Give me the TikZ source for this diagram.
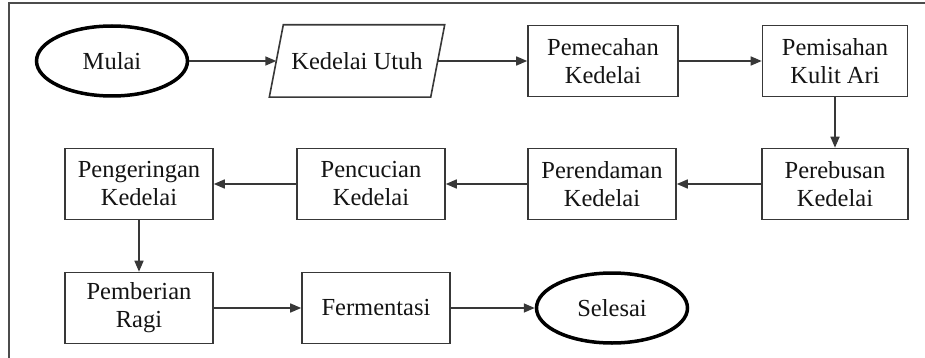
\documentclass[tikz,border=0pt]{standalone}
\usepackage{fontspec}
\setmainfont{Liberation Serif}
\usetikzlibrary{shapes.geometric,arrows.meta,calc}
\definecolor{edge}{HTML}{383838}
\definecolor{ink}{HTML}{141414}
\tikzset{
  proc/.style={draw=edge, line width=1.6pt, rectangle, minimum width=148pt,
    minimum height=71pt, inner sep=0pt, align=center, text=ink,
    font=\fontsize{24.5}{28}\selectfont},
  terminal/.style={draw=black, line width=3.5pt, ellipse, minimum width=151pt,
    minimum height=70pt, inner sep=0pt, text=ink,
    font=\fontsize{24.5}{28}\selectfont},
  io/.style={rectangle, minimum width=161pt, minimum height=72pt, inner sep=0pt,
    text=ink, font=\fontsize{24.5}{28}\selectfont},
  flow/.style={draw=edge, line width=1.6pt,
    -{Triangle[length=11pt,width=9pt]}},
}
\begin{document}
\begin{tikzpicture}[x=1pt,y=-1pt]
  \useasboundingbox (0,0) rectangle (925,358);
  \fill[white] (0,0) rectangle (925,358);
  % open frame around the chart
  \draw[color=edge!90, line width=2pt] (9,358) -- (9,3) -- (925,3);

  % first row
  \node[terminal] (mulai) at (112,61) {Mulai};
  \node[io] (utuh) at (357,61) {Kedelai Utuh};
  \draw[draw=edge, line width=1.6pt]
    ($(utuh.north west)+(7,0)$) -- ($(utuh.north east)+(7,0)$)
    -- ($(utuh.south east)+(-7,0)$) -- ($(utuh.south west)+(-7,0)$) -- cycle;
  \node[proc, minimum width=150pt] (pecah) at (603,61) {Pemecahan\\Kedelai};
  \node[proc, minimum width=145pt] (kulit) at (835,61) {Pemisahan\\Kulit Ari};

  % second row
  \node[proc, minimum width=146pt] (rebus) at (835,184) {Perebusan\\Kedelai};
  \node[proc] (rendam) at (602,184) {Perendaman\\Kedelai};
  \node[proc] (cuci) at (371,184) {Pencucian\\Kedelai};
  \node[proc] (kering) at (139,184) {Pengeringan\\Kedelai};

  % third row
  \node[proc] (ragi) at (139,308) {Pemberian\\Ragi};
  \node[proc] (fermen) at (376,308) {Fermentasi};
  \node[terminal] (selesai) at (612,308) {Selesai};

  % connectors
  \draw[flow] (mulai.east) -- (utuh.west);
  \draw[flow] (utuh.east) -- (pecah.west);
  \draw[flow] (pecah.east) -- (kulit.west);
  \draw[flow] (kulit.south) -- (rebus.north);
  \draw[flow] (rebus.west) -- (rendam.east);
  \draw[flow] (rendam.west) -- (cuci.east);
  \draw[flow] (cuci.west) -- (kering.east);
  \draw[flow] (kering.south) -- (ragi.north);
  \draw[flow] (ragi.east) -- (fermen.west);
  \draw[flow] (fermen.east) -- (selesai.west);
\end{tikzpicture}
\end{document}
